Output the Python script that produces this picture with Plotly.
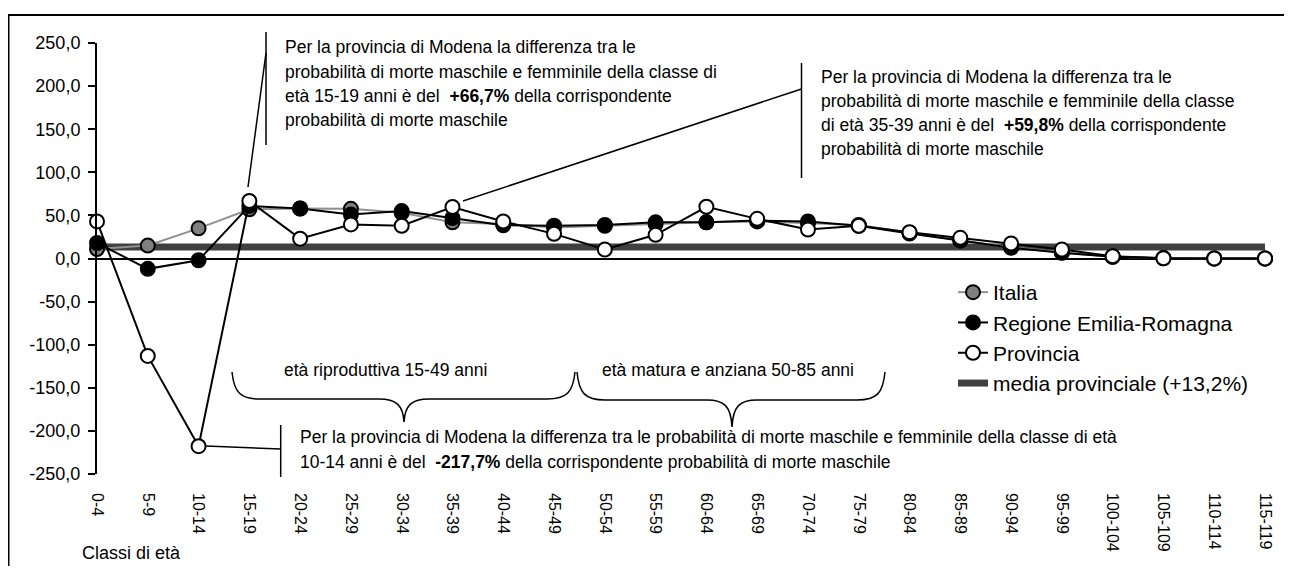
import plotly.graph_objects as go

classi = ["0-4", "5-9", "10-14", "15-19", "20-24", "25-29", "30-34", "35-39",
          "40-44", "45-49", "50-54", "55-59", "60-64", "65-69", "70-74", "75-79",
          "80-84", "85-89", "90-94", "95-99", "100-104", "105-109", "110-114", "115-119"]

italia = [11, 15, 35, 57, 58, 57.6, 53, 42, 40, 36, 38, 40, 42, 43, 41, 39,
          30, 21, 13, 7, 2, 0.5, 0, 0]
regione = [18, -12, -2, 61, 58, 51, 55, 47, 38.5, 38, 39, 42, 42, 44, 43, 38,
           29, 21, 12.4, 6.6, 2, 0.3, 0, 0]
provincia = [43, -113, -217.7, 66.7, 23, 39.5, 38, 59.8, 43, 28.6, 10.4, 27.5,
             60, 46, 33.6, 38, 30.5, 24, 17.4, 10.4, 2.7, 0.3, 0, 0]
media_provinciale = 13.2

y_ticks = [250, 200, 150, 100, 50, 0, -50, -100, -150, -200, -250]
y_labels = [f"{v:.1f}".replace(".", ",") for v in y_ticks]

# the page body has an 8px margin, so the figure is a bit smaller than the window
OFF = 8
W, H = 1292 - 2 * OFF, 574 - 2 * OFF
ML, MR, MT, MB = 97 - OFF, 19, 43 - OFF, 92
PW, PH = W - ML - MR, H - MT - MB
FONT = "Liberation Sans, Arial, sans-serif"


def px(x, y):
    # window pixel position -> paper coordinates
    x, y = x - OFF, y - OFF
    return (x - ML) / PW, (H - MB - y) / PH


def line(x0, y0, x1, y1, width=1.5):
    a, b = px(x0, y0)
    c, d = px(x1, y1)
    return dict(type="line", xref="paper", yref="paper", x0=a, y0=b, x1=c, y1=d,
                line=dict(color="black", width=width))


def brace(x0, x1, tip, top, mid, tip_y):
    pts = [("M", [(x0, top)]),
           ("C", [(x0 + 2, mid - 7), (x0 + 8, mid), (x0 + 28, mid)]),
           ("L", [(tip - 25, mid)]),
           ("C", [(tip - 8, mid), (tip - 1, mid + 6), (tip, tip_y)]),
           ("C", [(tip + 1, mid + 6), (tip + 8, mid), (tip + 25, mid)]),
           ("L", [(x1 - 28, mid)]),
           ("C", [(x1 - 8, mid), (x1 - 2, mid - 7), (x1, top)])]
    path = ""
    for cmd, pp in pts:
        path += cmd + " ".join("%.5f,%.5f" % px(x, y) for x, y in pp) + " "
    return dict(type="path", xref="paper", yref="paper", path=path.strip(),
                line=dict(color="black", width=1.5))


def text(x, y, s, size=17.5, anchor="left"):
    a, b = px(x, y)
    return dict(xref="paper", yref="paper", x=a, y=b, text=s, showarrow=False,
                xanchor=anchor, yanchor="middle",
                font=dict(family=FONT, size=size, color="black"))


fig = go.Figure()

fig.add_trace(go.Scatter(
    x=classi, y=[media_provinciale] * len(classi), mode="lines",
    name="media provinciale (+13,2%)", legendrank=4,
    line=dict(color="#404040", width=7), cliponaxis=False))

fig.add_trace(go.Scatter(
    x=classi, y=italia, mode="lines+markers", name="Italia", legendrank=1,
    line=dict(color="#909090", width=2),
    marker=dict(size=14, color="#808080", line=dict(color="black", width=2)),
    cliponaxis=False))

fig.add_trace(go.Scatter(
    x=classi, y=regione, mode="lines+markers", name="Regione Emilia-Romagna",
    legendrank=2, line=dict(color="black", width=2),
    marker=dict(size=14, color="black", line=dict(color="black", width=2)),
    cliponaxis=False))

fig.add_trace(go.Scatter(
    x=classi, y=provincia, mode="lines+markers", name="Provincia", legendrank=3,
    line=dict(color="black", width=2),
    marker=dict(size=14, color="white", line=dict(color="black", width=2)),
    cliponaxis=False))

shapes = [
    # outer frame (continues past the right and bottom edges)
    dict(type="rect", xref="paper", yref="paper",
         x0=px(8.5, 0)[0], x1=px(1340, 0)[0], y0=px(0, 640)[1], y1=px(0, 15)[1],
         line=dict(color="black", width=2)),
    # callout 15-19
    line(266, 32, 266, 145),
    line(266, 53, 248, 187),
    # callout 35-39
    line(801.5, 63, 801.5, 178),
    line(801.5, 89, 463, 201),
    # callout 10-14
    line(280.7, 425, 280.7, 477),
    line(206, 446, 280.7, 449),
    brace(232, 575, 404, 372, 399, 422),
    brace(577, 885, 732, 372, 400, 427),
]

nb = "\u00a0"
annotations = [
    text(283, 46.7, "Per la provincia di Modena la differenza tra le"),
    text(283, 71.7, "probabilità di morte maschile e femminile della classe di"),
    text(283, 96, f"età 15-19 anni è del{nb} <b>+66,7%</b> della corrispondente"),
    text(283, 120, "probabilità di morte maschile"),
    text(819, 76.7, "Per la provincia di Modena la differenza tra le"),
    text(819, 100.7, "probabilità di morte maschile e femminile della classe"),
    text(819, 125, f"di età 35-39 anni è del{nb} <b>+59,8%</b> della corrispondente"),
    text(819, 149.3, "probabilità di morte maschile"),
    text(298, 436.7, "Per la provincia di Modena la differenza tra le probabilità di morte "
                     "maschile e femminile della classe di età"),
    text(298, 461.7, f"10-14 anni è del{nb} <b>-217,7%</b> della corrispondente probabilità "
                     "di morte maschile"),
    text(385, 370, "età riproduttiva 15-49 anni", anchor="center"),
    text(728, 370, "età matura e anziana 50-85 anni", anchor="center"),
    text(80, 553, "Classi di età", size=18),
]

fig.update_xaxes(
    type="category", range=[0, len(classi) - 1], showgrid=False, zeroline=False,
    showline=False, ticks="", tickangle=90, ticklabelstandoff=18,
    tickfont=dict(family=FONT, size=16, color="black"), automargin=False)

fig.update_yaxes(
    range=[-250, 250], tickvals=y_ticks, ticktext=y_labels, showgrid=False,
    zeroline=True, zerolinecolor="black", zerolinewidth=1.5,
    showline=True, linecolor="black", linewidth=2,
    ticks="outside", ticklen=7, tickwidth=2, tickcolor="black",
    ticklabelstandoff=4,
    tickfont=dict(family=FONT, size=18, color="black"), automargin=False)

lx, ly = px(953, 272)
fig.update_layout(
    width=W, height=H,
    margin=dict(l=ML, r=MR, t=MT, b=MB),
    paper_bgcolor="white", plot_bgcolor="white",
    font=dict(family=FONT, color="black"),
    shapes=shapes, annotations=annotations,
    legend=dict(x=lx, y=ly, xanchor="left", yanchor="top",
                font=dict(family=FONT, size=21, color="black"),
                bgcolor="rgba(0,0,0,0)", borderwidth=0),
)

fig.write_html("out.html")
